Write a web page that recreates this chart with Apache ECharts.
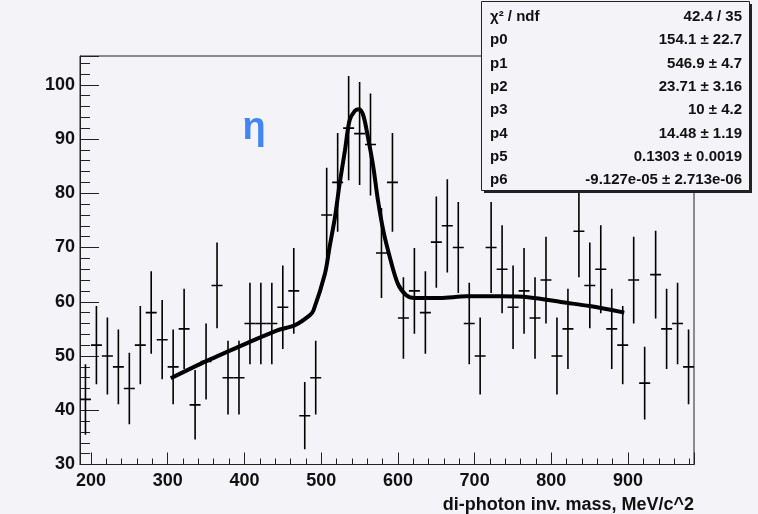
<!DOCTYPE html>
<html>
<head>
<meta charset="utf-8">
<script src="https://cdn.jsdelivr.net/npm/echarts@6/dist/echarts.min.js"></script>
<style>
html, body { margin: 0; padding: 0; background: #f4f3f7; }
#main { width: 758px; height: 514px; }
</style>
</head>
<body>
<div id="main"></div>
<script>
// histogram bin centres (MeV/c^2)
var binCenters = [192.8, 207.1, 221.4, 235.7, 250.0, 264.3, 278.5, 292.8, 307.1, 321.4,
  335.7, 350.0, 364.3, 378.6, 392.9, 407.2, 421.4, 435.7, 450.0, 464.3,
  478.6, 492.9, 507.2, 521.5, 535.8, 550.1, 564.3, 578.6, 592.9, 607.2,
  621.5, 635.8, 650.1, 664.4, 678.7, 693.0, 707.2, 721.5, 735.8, 750.1,
  764.4, 778.7, 793.0, 807.3, 821.6, 835.9, 850.1, 864.4, 878.7, 893.0,
  907.3, 921.6, 935.9, 950.2, 964.5, 978.8]
// entries per bin
var counts = [42, 52, 50, 48, 44, 52, 58, 53, 48, 55,
  41, 49, 63, 46, 46, 56, 56, 56, 59, 62,
  39, 46, 76, 82, 92, 91, 89, 69, 82, 57,
  62, 58, 71, 74, 70, 56, 50, 70, 66, 59,
  62, 57, 64, 50, 55, 73, 63, 66, 55, 52,
  64, 45, 65, 55, 56, 48]
// vertical error bars
var errs = [6.5, 7.2, 7.1, 6.9, 6.6, 7.2, 7.6, 7.3, 6.9, 7.4,
  6.4, 7.0, 7.9, 6.8, 6.8, 7.5, 7.5, 7.5, 7.7, 7.9,
  6.2, 6.8, 8.7, 9.1, 9.6, 9.5, 9.4, 8.3, 9.1, 7.5,
  7.9, 7.6, 8.4, 8.6, 8.4, 7.5, 7.1, 8.4, 8.1, 7.7,
  7.9, 7.5, 8.0, 7.1, 7.4, 8.5, 7.9, 8.1, 7.4, 7.2,
  8.0, 6.7, 8.1, 7.4, 7.5, 6.9]
var binHalf = 7.14

// fit curve
var fitX = [304, 351, 407, 442, 466, 485, 490, 505, 511, 518, 524, 531, 537, 544, 549.5,
  555, 561, 568, 574, 581, 589.5, 600, 611, 622, 655, 689, 733, 772, 815, 850, 895]
var fitY = [45.9, 49.1, 52.6, 54.7, 55.7, 57.5, 58.4, 65.2, 70.1, 75.6, 81.7, 87.9, 93.4, 95.2, 95.5,
  94.3, 90.3, 84.8, 78.7, 73.1, 68.2, 63.3, 61.2, 60.7, 60.7, 61.0, 61.0, 60.8, 59.9, 59.2, 58.0]

var statNames = ['χ² / ndf', 'p0', 'p1', 'p2', 'p3', 'p4', 'p5', 'p6']
var statValues = ['42.4 / 35', '154.1 ± 22.7', '546.9 ± 4.7', '23.71 ± 3.16', '10 ± 4.2',
  '14.48 ± 1.19', '0.1303 ± 0.0019', '-9.127e-05 ± 2.713e-06']

var chart = echarts.init(document.getElementById('main'))

var histData = []
for (var i = 0; i < binCenters.length; i++) {
  histData.push([binCenters[i], counts[i], errs[i]])
}
var fitData = []
for (var j = 0; j < fitX.length; j++) {
  fitData.push([fitX[j], fitY[j]])
}

function renderErr(params, api) {
  var x = api.value(0), y = api.value(1), e = api.value(2)
  var top = api.coord([x, y + e])
  var bot = api.coord([x, y - e])
  var lft = api.coord([x - binHalf, y])
  var rgt = api.coord([x + binHalf, y])
  var st = { stroke: '#000', lineWidth: 1.6 }
  return {
    type: 'group',
    children: [
      { type: 'line', shape: { x1: top[0], y1: top[1], x2: bot[0], y2: bot[1] }, style: st },
      { type: 'line', shape: { x1: lft[0], y1: lft[1], x2: rgt[0], y2: rgt[1] }, style: st }
    ]
  }
}

var font = 'Liberation Sans, Arial, sans-serif'

// stats box
var boxX = 481.5, boxY = 1.5, boxW = 268, boxH = 189
var statEls = [
  { type: 'rect', shape: { x: boxX + 2.5, y: boxY + 2.5, width: boxW, height: boxH }, style: { fill: '#222' }, z: 100 },
  { type: 'rect', shape: { x: boxX, y: boxY, width: boxW, height: boxH }, style: { fill: '#f4f3f7', stroke: '#222', lineWidth: 1 }, z: 101 }
]
for (var k = 0; k < statNames.length; k++) {
  var ty = 17 + k * 23.3
  statEls.push({ type: 'text', x: 490, y: ty, z: 102,
    style: { text: statNames[k], fill: '#111', font: 'bold 15px ' + font, verticalAlign: 'middle', align: 'left' } })
  statEls.push({ type: 'text', x: 742, y: ty, z: 102,
    style: { text: statValues[k], fill: '#111', font: 'bold 15px ' + font, verticalAlign: 'middle', align: 'right' } })
}

var option = {
  backgroundColor: '#f4f3f7',
  animation: false,
  grid: { left: 80, right: 64, top: 56, bottom: 49.5, show: true, borderColor: '#222', borderWidth: 1 },
  xAxis: {
    type: 'value',
    min: 185.7,
    max: 985.9,
    splitNumber: 8,
    axisLine: { lineStyle: { color: '#222', width: 1 } },
    axisTick: { inside: true, length: 12, lineStyle: { color: '#222' } },
    minorTick: { show: true, splitNumber: 5, length: 6, lineStyle: { color: '#222' } },
    splitLine: { show: false },
    axisLabel: { showMinLabel: false, showMaxLabel: false, color: '#111', fontWeight: 'bold', fontSize: 18, fontFamily: font, margin: 8 }
  },
  yAxis: {
    type: 'value',
    min: 30,
    max: 105.3,
    interval: 10,
    axisLine: { show: true, lineStyle: { color: '#222', width: 1 } },
    axisTick: { inside: true, length: 19, lineStyle: { color: '#222' } },
    minorTick: { show: true, splitNumber: 5, length: 10, lineStyle: { color: '#222' } },
    splitLine: { show: false },
    axisLabel: { showMaxLabel: false, color: '#111', fontWeight: 'bold', fontSize: 18, fontFamily: font, margin: 5 }
  },
  series: [
    {
      type: 'custom',
      renderItem: renderErr,
      data: histData,
      clip: true,
      z: 3
    },
    {
      type: 'line',
      data: fitData,
      smooth: 0.3,
      symbol: 'none',
      lineStyle: { color: '#000', width: 4 },
      z: 4
    }
  ],
  graphic: [
    { type: 'text', x: 254, y: 129, z: 50,
      style: { text: 'η', fill: '#4285f4', font: 'bold 38px ' + font, align: 'center', verticalAlign: 'middle' } },
    { type: 'text', x: 694, y: 505, z: 50,
      style: { text: 'di-photon inv. mass, MeV/c^2', fill: '#111', font: 'bold 18px ' + font, align: 'right', verticalAlign: 'middle' } }
  ].concat(statEls)
}

chart.setOption(option)
</script>
</body>
</html>
